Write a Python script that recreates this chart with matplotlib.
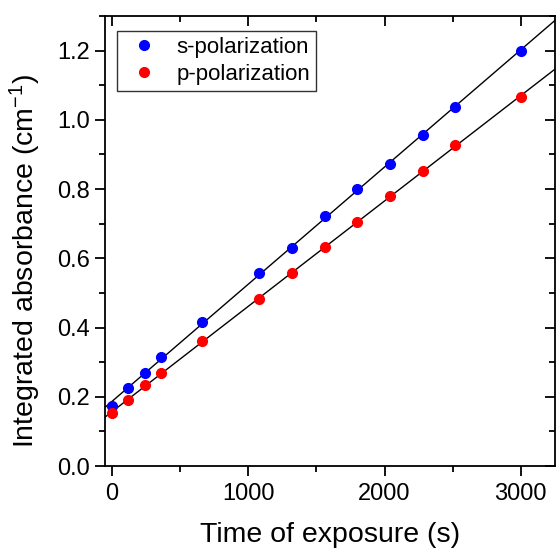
import numpy as np
import matplotlib
matplotlib.use("Agg")
import matplotlib.pyplot as plt
from matplotlib.ticker import MultipleLocator

plt.rcParams["font.family"] = ["Liberation Sans", "DejaVu Sans"]
plt.rcParams["mathtext.default"] = "regular"

# exposure times (s)
time_s = [0, 120, 240, 360, 660, 1080, 1320, 1560, 1800, 2040, 2280, 2520, 3000]
# integrated absorbance (cm^-1)
abs_s = [0.172, 0.225, 0.270, 0.315, 0.415, 0.557, 0.630, 0.722, 0.800, 0.873, 0.957, 1.036, 1.200]
abs_p = [0.152, 0.190, 0.235, 0.268, 0.360, 0.481, 0.558, 0.633, 0.705, 0.780, 0.852, 0.926, 1.065]

fig = plt.figure(figsize=(5.56, 5.48), dpi=100)
ax = fig.add_axes([0.189, 0.1496, 0.809, 0.8214])

xlo, xhi = -50, 3250
xfit = np.array([xlo, xhi])
for y, color, label in [(abs_s, "#0000ff", "s-polarization"),
                        (abs_p, "#ff0000", "p-polarization")]:
    k, b = np.polyfit(time_s, y, 1)
    ax.plot(xfit, k * xfit + b, color="black", lw=1.0, zorder=2)
    ax.plot(time_s, y, "o", color=color, ms=7, mec=color, label=label, zorder=3)

ax.set_xlim(xlo, xhi)
ax.set_ylim(0, 1.3)
ax.xaxis.set_major_locator(MultipleLocator(1000))
ax.xaxis.set_minor_locator(MultipleLocator(500))
ax.yaxis.set_major_locator(MultipleLocator(0.2))
ax.yaxis.set_minor_locator(MultipleLocator(0.1))
ax.yaxis.set_major_formatter(plt.FuncFormatter(lambda v, p: f"{v:.1f}"))

for s in ax.spines.values():
    s.set_linewidth(1.3)
ax.tick_params(which="both", direction="out", width=1.3, labelsize=17, pad=4)
ax.tick_params(axis="x", pad=5)
ax.tick_params(which="major", length=7)
ax.tick_params(which="minor", length=4.3)
ax.tick_params(which="both", top=True, right=True)
# mirrored ticks point inward
for t in ax.xaxis.get_major_ticks() + ax.xaxis.get_minor_ticks():
    t.tick2line.set_marker(3)
for t in ax.yaxis.get_major_ticks() + ax.yaxis.get_minor_ticks():
    t.tick2line.set_marker(0)

ax.set_xlabel("Time of exposure (s)", fontsize=20.5, labelpad=12.5)
ax.set_ylabel("Integrated absorbance (cm$^{-1}$)", fontsize=20.5, labelpad=10)
ax.yaxis.label.set_y(0.456)

leg = ax.legend(loc="upper left", bbox_to_anchor=(0.027, 0.967), borderaxespad=0,
                fontsize=16, frameon=True, fancybox=False, edgecolor="black",
                handlelength=1.9, handletextpad=0.5, borderpad=0.27,
                labelspacing=0.27)
leg.get_frame().set_linewidth(1.0)

fig.savefig("out.png", dpi=100)
